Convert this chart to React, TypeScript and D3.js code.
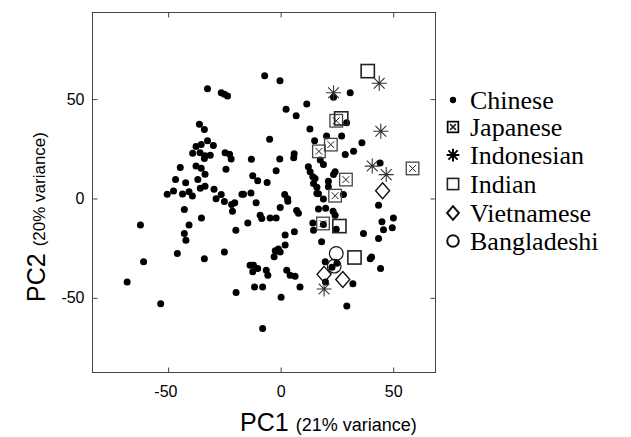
import React, { useEffect, useRef } from 'react';
import * as d3 from 'd3';

// PCA scores, [PC1, PC2]
const chinese: [number, number][] = [
  [-7.1, 61.8], [-0.3, 59.2], [-32.5, 55.2], [-26.4, 53.2], [-25.0, 52.4], [-23.6, 51.6],
  [-36.1, 37.3], [-33.9, 34.7], [-4.9, 29.8], [-32.5, 29.0], [-35.3, 27.1], [-37.6, 26.1],
  [-29.9, 26.7], [-39.1, 22.8], [-35.8, 23.0], [-33.6, 21.5], [-31.3, 21.8], [-33.9, 20.1],
  [-24.7, 23.0], [-22.7, 22.3], [-22.0, 19.9], [-13.0, 19.7], [-44.6, 15.6], [-37.6, 16.3],
  [-35.3, 15.2], [-33.6, 12.2], [-36.8, 9.6], [-24.3, 14.7], [-12.4, 11.4], [-10.2, 8.9],
  [-6.0, 8.0], [-46.7, 9.6], [-42.2, 7.9], [-35.7, 5.2], [-33.6, 6.2], [-29.6, 4.6],
  [-47.6, 3.7], [-50.4, 2.1], [-43.6, 2.3], [-40.7, 3.4], [-39.2, 1.3], [-26.4, 2.0],
  [-17.2, 2.1], [-13.2, 2.8], [-16.5, 2.1], [-28.7, -0.1], [-25.0, -1.5], [-21.8, -3.1],
  [-20.4, -2.1], [-21.4, -6.5], [-0.4, 19.8], [6.0, 22.5], [5.8, 20.5], [-2.0, 13.9],
  [11.6, 47.5], [2.4, 44.9], [6.9, 41.6], [13.0, 34.9], [15.1, 29.0], [12.3, 15.9],
  [13.1, 13.5], [14.3, 10.9], [15.3, 10.0], [14.6, 7.5], [16.1, 5.7], [16.1, 2.5],
  [1.8, 2.0], [3.1, -0.1], [-0.2, -4.5], [3.2, -1.4], [7.1, -6.1], [7.9, -7.5],
  [6.1, -16.8], [2.0, -18.4], [2.0, -23.4], [-1.0, -25.5], [-2.4, -26.3], [-2.9, -29.4],
  [-0.2, -26.9], [2.7, -36.1], [4.2, -38.6], [6.4, -39.1], [8.6, -44.6], [0.2, -49.7],
  [-8.0, -65.5], [-11.6, -44.6], [-8.0, -44.6], [-19.8, -47.3], [-13.6, -33.6], [-12.1, -33.6],
  [-10.2, -35.3], [-12.4, -36.9], [-6.4, -36.1], [-5.7, -38.6], [-25.0, -27.0], [-33.9, -30.4],
  [-45.9, -27.7], [-14.6, -12.3], [-19.9, -16.0], [-9.1, -8.4], [-8.4, -10.1], [-4.7, -9.8],
  [-2.0, -9.8], [-35.2, -9.8], [-42.8, -5.5], [-40.7, -13.3], [-42.8, -17.6], [-42.1, -21.0],
  [-62.3, -13.3], [-60.9, -31.9], [-68.2, -42.1], [-53.3, -53.0], [-10.9, -2.2],
  [23.5, 51.0], [30.9, 53.2], [29.3, 38.1], [20.4, 31.4], [27.1, 31.4], [36.1, 28.1],
  [32.4, 23.8], [28.7, 22.1], [17.6, 19.3], [19.0, 17.1], [24.2, 13.4], [23.5, 12.1],
  [21.2, 8.7], [21.2, 5.9], [16.8, 2.4], [19.0, -0.3], [27.9, 2.0], [44.2, 17.9],
  [43.5, -3.4], [16.8, -5.3], [20.0, -4.9], [23.3, -6.4], [24.2, -8.4], [14.3, -12.3],
  [14.6, -16.0], [19.0, -13.1], [24.7, -15.5], [18.2, -21.8], [36.8, -17.6], [50.1, -9.8],
  [45.0, -11.7], [49.6, -14.8], [45.7, -15.8], [43.5, -20.1], [40.4, -29.5], [39.8, -30.3],
  [44.4, -35.2], [19.8, -31.9], [22.8, -34.6], [25.0, -32.6], [19.9, -42.0], [32.1, -42.9],
  [29.4, -54.1],
];
const japanese: [number, number][] = [
  [24.7, 39.1], [22.3, 27.1], [17.0, 23.7], [29.0, 9.5], [24.2, 1.4], [58.6, 15.1], [18.8, -12.6],
];
const indonesian: [number, number][] = [
  [43.8, 58.0], [23.5, 53.2], [44.5, 33.8], [40.7, 16.3], [46.9, 12.0], [19.3, -45.6],
];
const indian: [number, number][] = [
  [38.7, 64.1], [26.9, 40.3], [26.1, -13.9], [32.8, -29.7],
];
const vietnamese: [number, number][] = [
  [45.3, 3.9], [19.3, -38.2], [27.6, -40.8],
];
const bangladeshi: [number, number][] = [
  [24.7, -27.7], [23.8, -34.1],
];

const xTicks = [-50, 0, 50];
const yTicks = [-50, 0, 50];
const groups = ['Chinese', 'Japanese', 'Indonesian', 'Indian', 'Vietnamese', 'Bangladeshi'];

const sans = '"Liberation Sans", Arial, Helvetica, sans-serif';
const serif = '"Liberation Serif", "Times New Roman", serif';

// draw one marker of a group at (cx, cy); legend markers are drawn a bit heavier
function drawMarker(g: any, group: string, cx: number, cy: number, s = 1, inLegend = false) {
  if (group === 'Chinese') {
    g.append('circle').attr('cx', cx).attr('cy', cy).attr('r', 3.5 * s).attr('fill', '#000');
  } else if (group === 'Japanese') {
    const h = 6.3 * s, k = 3.4 * s;
    g.append('rect').attr('x', cx - h).attr('y', cy - h).attr('width', 2 * h).attr('height', 2 * h)
      .attr('fill', 'none').attr('stroke', inLegend ? '#000' : '#444').attr('stroke-width', inLegend ? 1.7 : 1.3);
    g.append('path')
      .attr('d', `M${cx - k},${cy - k}L${cx + k},${cy + k}M${cx - k},${cy + k}L${cx + k},${cy - k}`)
      .attr('stroke', '#222').attr('stroke-width', inLegend ? 1.6 : 1);
  } else if (group === 'Indonesian') {
    const h = 7.5 * s, d = h * 0.72;
    g.append('path')
      .attr('d', `M${cx - h},${cy}L${cx + h},${cy}M${cx},${cy - h}L${cx},${cy + h}` +
        `M${cx - d},${cy - d}L${cx + d},${cy + d}M${cx - d},${cy + d}L${cx + d},${cy - d}`)
      .attr('stroke', inLegend ? '#000' : '#333').attr('stroke-width', inLegend ? 2 : 1.1);
  } else if (group === 'Indian') {
    const h = 6.6 * s;
    g.append('rect').attr('x', cx - h).attr('y', cy - h).attr('width', 2 * h).attr('height', 2 * h)
      .attr('fill', 'none').attr('stroke', '#222').attr('stroke-width', 1.6);
  } else if (group === 'Vietnamese') {
    const w = 7 * s, hh = 8 * s;
    g.append('path')
      .attr('d', `M${cx},${cy - hh}L${cx + w},${cy}L${cx},${cy + hh}L${cx - w},${cy}Z`)
      .attr('fill', 'none').attr('stroke', '#111').attr('stroke-width', inLegend ? 2 : 1.4);
  } else {
    g.append('circle').attr('cx', cx).attr('cy', cy).attr('r', 6.8 * s)
      .attr('fill', 'none').attr('stroke', '#111').attr('stroke-width', inLegend ? 2 : 1.2);
  }
}

const App = () => {
  const svgRef = useRef<SVGSVGElement>(null);

  useEffect(() => {
    const svg = d3.select(svgRef.current);
    svg.selectAll('*').remove();

    const width = 631;
    const height = 437;
    const margin = { top: 12.5, right: 195.5, bottom: 64.5, left: 92.5 };
    const chartWidth = width - margin.left - margin.right;
    const chartHeight = height - margin.top - margin.bottom;

    const xScale = d3.scaleLinear().domain([-83.6, 68.8]).range([0, chartWidth]);
    const yScale = d3.scaleLinear().domain([-87.6, 93.6]).range([chartHeight, 0]);

    const chart = svg.append('g').attr('transform', `translate(${margin.left},${margin.top})`);

    // axes, ticks pointing inward on all four sides
    const fmt = (d: any) => String(d);
    const bottom = chart.append('g').attr('transform', `translate(0,${chartHeight})`)
      .call(d3.axisBottom(xScale).tickValues(xTicks).tickSize(-5).tickPadding(13).tickFormat(fmt));
    bottom.selectAll('text').attr('dx', (d: any) => (d < 0 ? '-0.17em' : 0));
    const left = chart.append('g')
      .call(d3.axisLeft(yScale).tickValues(yTicks).tickSize(-5).tickPadding(8).tickFormat(fmt));
    chart.append('g').call(d3.axisTop(xScale).tickValues(xTicks).tickSize(-5).tickFormat(() => ''));
    chart.append('g').attr('transform', `translate(${chartWidth},0)`)
      .call(d3.axisRight(yScale).tickValues(yTicks).tickSize(-5).tickFormat(() => ''));

    chart.selectAll('.domain').remove();
    chart.selectAll('.tick line').attr('stroke', '#444');
    [bottom, left].forEach(a => a.selectAll('text')
      .style('font-family', sans).style('font-size', '16px').attr('fill', '#000'));

    chart.append('rect')
      .attr('width', chartWidth).attr('height', chartHeight)
      .attr('fill', 'none').attr('stroke', '#444').attr('stroke-width', 1);

    // points
    const marks = chart.append('g');
    const series: [string, [number, number][]][] = [
      ['Chinese', chinese], ['Japanese', japanese], ['Indonesian', indonesian],
      ['Indian', indian], ['Vietnamese', vietnamese], ['Bangladeshi', bangladeshi],
    ];
    series.forEach(([name, pts]) => {
      pts.forEach(p => drawMarker(marks, name, xScale(p[0]), yScale(p[1])));
    });

    // legend
    const legendY = [100, 127, 155, 184, 213, 241];
    const legend = svg.append('g');
    groups.forEach((name, i) => {
      drawMarker(legend, name, 453, legendY[i], name === 'Chinese' ? 0.9 : 0.85, true);
      legend.append('text')
        .attr('x', 470).attr('y', legendY[i] + 9)
        .style('font-family', serif).style('font-size', '26px')
        .text(name);
    });

    // axis titles
    const xt = svg.append('text').attr('x', 240).attr('y', 431).style('font-family', sans);
    xt.append('tspan').style('font-size', '25px').text('PC1');
    xt.append('tspan').attr('dx', 7).style('font-size', '18px').text('(21% variance)');

    const yt = svg.append('text').attr('transform', 'rotate(-90)')
      .attr('x', -302).attr('y', 45).style('font-family', sans);
    yt.append('tspan').style('font-size', '25px').text('PC2');
    yt.append('tspan').attr('dx', 7).style('font-size', '17px').text('(20% variance)');
  }, []);

  return (
    <svg ref={svgRef} width={631} height={437}
      style={{ position: 'absolute', left: 0, top: 0, background: '#fff' }} />
  );
};

export default App;
